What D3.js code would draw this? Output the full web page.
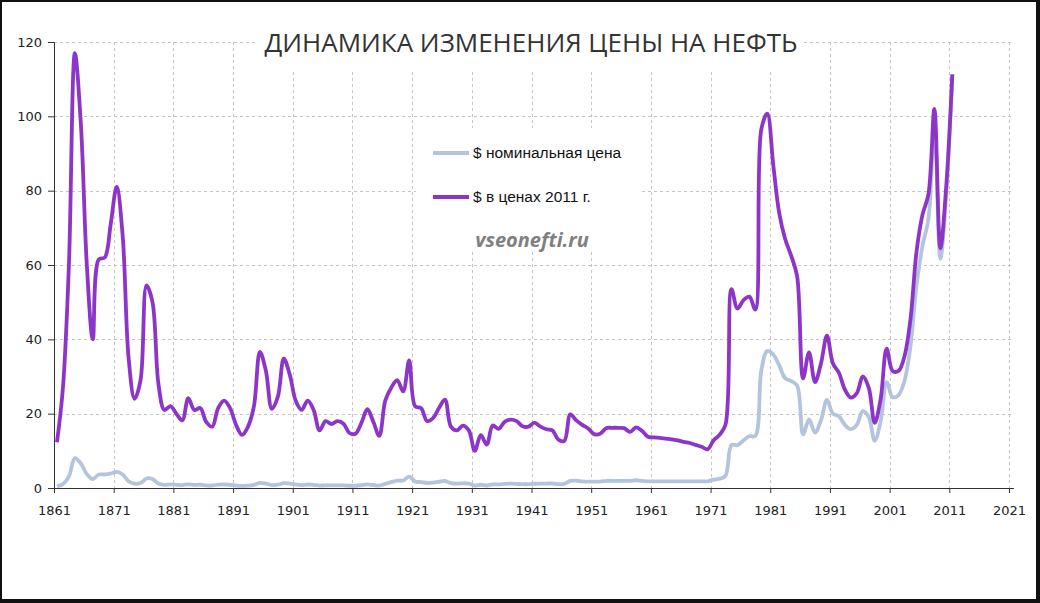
<!DOCTYPE html>
<html><head><meta charset="utf-8">
<script src="https://cdn.jsdelivr.net/npm/d3@7"></script>
<style>
html,body{margin:0;padding:0;background:#fff;}
svg{display:block;}
</style></head>
<body>
<script>
// ---- DATA ----
const title = "ДИНАМИКА ИЗМЕНЕНИЯ ЦЕНЫ НА НЕФТЬ";
const seriesNames = ["$ номинальная цена", "$ в ценах 2011 г."];
const watermark = "vseonefti.ru";
const years = d3.range(1861, 2012);
const xTicks = [1861,1871,1881,1891,1901,1911,1921,1931,1941,1951,1961,1971,1981,1991,2001,2011,2021];
const yTicks = [0,20,40,60,80,100,120];

const nominal = [
 0.49,1.05,3.15,8.06,6.59,3.74,2.41,3.62,3.64,3.86,
 4.34,3.64,1.83,1.17,1.35,2.56,2.42,1.19,0.86,0.95,
 0.86,0.78,1.00,0.84,0.88,0.71,0.67,0.88,0.94,0.87,
 0.67,0.56,0.64,0.84,1.36,1.18,0.79,0.91,1.29,1.19,
 0.96,0.80,0.94,0.86,0.62,0.73,0.72,0.72,0.70,0.61,
 0.61,0.74,0.95,0.81,0.64,1.10,1.56,1.98,2.01,3.07,
 1.73,1.61,1.34,1.43,1.68,1.88,1.30,1.17,1.27,1.19,
 0.65,0.87,0.67,1.00,0.97,1.09,1.18,1.13,1.02,1.02,
 1.14,1.19,1.20,1.21,1.05,1.12,1.90,1.99,1.78,1.71,
 1.71,1.71,1.93,1.93,1.93,1.93,1.90,2.08,1.90,1.80,
 1.80,1.80,1.80,1.80,1.80,1.80,1.80,1.80,1.80,1.80,
 2.24,2.48,3.29,11.58,11.53,12.80,13.92,14.02,31.61,36.83,
 35.93,32.97,29.55,28.78,27.56,14.43,18.44,14.92,18.23,23.73,
 20.00,19.32,16.97,15.82,17.02,20.67,19.09,12.72,17.97,28.50,
 24.44,25.02,28.83,38.27,54.52,65.14,72.39,97.26,61.67,79.50,
 111.26
];
const real2011 = [
 12.3,27,60,117,98,60,40,61.5,62,71,
 81,68,35,24,29,54.5,50,28,21,22,
 20,18.2,24.2,21,21.5,17.8,16.5,21.5,23.5,21.5,
 17,14.3,16.5,22,36.6,31.5,21.3,24.5,34.8,30.5,
 23.5,21,23.5,21,15.5,18,17.2,18,17.3,14.8,
 14.6,17.5,21.2,17.8,14,23.5,27,29,26,34.3,
 22,21.5,18,18.8,21.5,23.8,16.5,15.5,16.8,15.5,
 10,14.2,11.7,16.8,15.9,17.8,18.4,18,16.6,16.5,
 17.6,16.5,15.8,15.5,13,12.7,19.8,18.2,17,16,
 14.5,14.6,16.1,16.2,16.2,16.1,15.1,16.3,15.4,13.8,
 13.6,13.5,13.3,13.1,12.8,12.4,12.1,11.6,11.1,10.4,
 12.8,14.3,17,53.5,48.3,50.5,51.5,48,96.5,100.7,
 87,74,67,62.5,57,29.5,36.5,28.5,33.5,41,
 33.5,31,26.5,24.3,25.5,30,27,17.5,24,37.5,
 31.5,31.5,35.5,45.5,63.5,73.5,79,102,64.5,81.5,
 111.3
];

// ---- CHART ----
const W = 1040, H = 603;
const svg = d3.select("body").append("svg").attr("width", W).attr("height", H);

svg.append("rect").attr("x",0).attr("y",0).attr("width",W).attr("height",H).attr("fill","#111");
svg.append("rect").attr("x",2).attr("y",2).attr("width",1034).attr("height",597).attr("fill","#fff");

const x = d3.scaleLinear().domain([1861, 2021]).range([54, 1009]);
const y = d3.scaleLinear().domain([0, 120]).range([488, 42]);

const grid = svg.append("g").attr("stroke", "#c4c4c4").attr("stroke-dasharray", "3,3").attr("stroke-width", 1);
yTicks.filter(d => d > 0).forEach(d => {
  grid.append("line").attr("x1", x(1861)).attr("x2", x(2021) + 5)
    .attr("y1", Math.round(y(d)) + 0.5).attr("y2", Math.round(y(d)) + 0.5);
});
xTicks.filter(d => d > 1861).forEach(d => {
  grid.append("line").attr("x1", Math.round(x(d)) + 0.5).attr("x2", Math.round(x(d)) + 0.5)
    .attr("y1", y(120)).attr("y2", y(0));
});

// white boxes behind title and legend (as in the original)
svg.append("rect").attr("x", 258).attr("y", 18).attr("width", 544).attr("height", 51).attr("fill", "#fff");
svg.append("rect").attr("x", 416).attr("y", 128).attr("width", 224).attr("height", 122).attr("fill", "#fff");

// axes
const tickFont = "DejaVu Sans, Verdana, sans-serif";
const xAxis = d3.axisBottom(x).tickValues(xTicks).tickFormat(d3.format("d")).tickSize(5).tickPadding(13);
const gx = svg.append("g").attr("transform", "translate(0,488)").call(xAxis);
gx.select(".domain").remove();
gx.append("line").attr("x1", 54).attr("x2", 1014).attr("y1", 0.5).attr("y2", 0.5).attr("stroke", "#333");
gx.selectAll(".tick line").attr("stroke", "#333");
gx.selectAll(".tick text").attr("fill", "#222").style("font-family", tickFont).style("font-size", "13px");

const yAxis = d3.axisLeft(y).tickValues(yTicks).tickSize(6).tickPadding(6);
const gy = svg.append("g").attr("transform", "translate(54,0)").call(yAxis);
gy.select(".domain").attr("stroke", "#333");
gy.selectAll(".tick line").attr("stroke", "#333");
gy.selectAll(".tick text").attr("fill", "#222").style("font-family", tickFont).style("font-size", "13px");

// lines
const line = (vals) => d3.line()
  .x((d, i) => x(years[i] + 0.5))
  .y(d => y(d))
  .curve(d3.curveCatmullRom.alpha(0.5))(vals);

const colors = ["#b3c5dd", "#8d35c8"];
svg.append("path").attr("d", line(nominal)).attr("fill", "none").attr("stroke", colors[0]).attr("stroke-width", 3.8).attr("stroke-linejoin", "round");
svg.append("path").attr("d", line(real2011)).attr("fill", "none").attr("stroke", colors[1]).attr("stroke-width", 3.8).attr("stroke-linejoin", "round");

// title
svg.append("text").attr("x", 531).attr("y", 52).attr("text-anchor", "middle")
  .style("font-family", "Open Sans, sans-serif").style("font-size", "26px").attr("fill", "#333")
  .text(title);

// legend
const leg = svg.append("g");
[153, 197].forEach((ly, i) => {
  leg.append("line").attr("x1", 433).attr("x2", 469).attr("y1", ly).attr("y2", ly)
    .attr("stroke", colors[i]).attr("stroke-width", 3.8);
  leg.append("text").attr("x", 473).attr("y", ly + 5)
    .style("font-family", "Liberation Sans, Arial, sans-serif").style("font-size", "15.5px").attr("fill", "#111")
    .text(seriesNames[i]);
});
leg.append("text").attr("x", 532).attr("y", 247).attr("text-anchor", "middle")
  .style("font-family", "Open Sans, sans-serif").style("font-size", "20px").style("font-weight", "bold").style("font-style", "italic")
  .attr("fill", "#808080").text(watermark);
</script>
</body></html>
